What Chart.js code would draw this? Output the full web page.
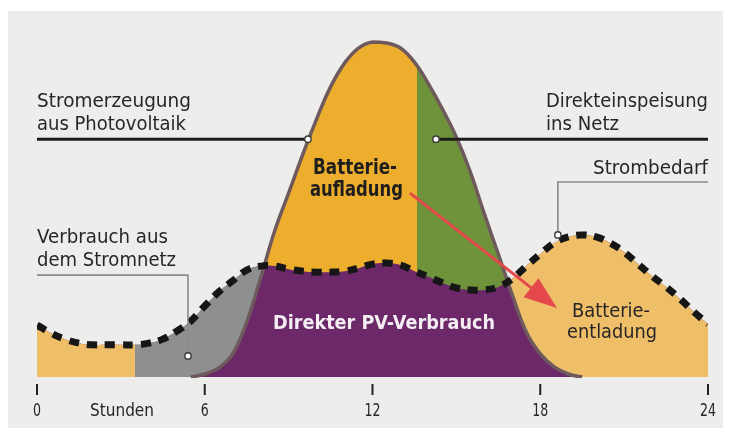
<!DOCTYPE html>
<html>
<head>
<meta charset="utf-8">
<script src="https://cdn.jsdelivr.net/npm/chart.js@4.4.1/dist/chart.umd.min.js"></script>
<style>
html,body{margin:0;padding:0;background:#fff;}
canvas{display:block;}
</style>
</head>
<body>
<canvas id="c" width="731" height="435"></canvas>
<script>
// ---- data (relative power, PV peak = 100) ----
const hours = [0,0.5,1,1.5,2,2.5,3,3.5,4,4.5,5,5.5,6,6.5,7,7.5,8,8.5,9,9.5,10,10.5,11,11.5,12,
               12.5,13,13.5,14,14.5,15,15.5,16,16.5,17,17.5,18,18.5,19,19.5,20,20.5,21,21.5,22,22.5,23,23.5,24];
const pvGeneration = [0,0,0,0,0,0,0,0,0,0,0,0,0.9,2.7,6.9,16.4,29.6,43.6,54.9,66.3,77.0,86.6,93.7,98.2,100,
                      99.7,98.2,94.0,87.5,80.0,71.6,61.2,48.7,36.7,24.5,13.4,6.9,3.0,0.9,0,0,0,0,0,0,0,0,0,0];
const powerDemand = [15.5,13.1,11.3,10.1,9.6,9.6,9.6,9.6,10.1,11.3,13.7,16.7,21.2,25.4,28.7,31.9,33.1,33.1,32.2,31.6,31.3,31.3,31.6,32.5,33.7,
                     34.0,33.4,31.6,29.9,28.1,26.6,26.0,26.0,26.9,29.3,33.1,36.7,40.0,41.8,42.4,41.8,40.0,37.3,33.7,30.1,26.9,23.3,19.4,15.8];
const xTickValues = [0,6,12,18,24];
const xTickLabels = ['0','6','12','18','24'];
const xAxisTitle = 'Stunden';
const gridUseStartHour = 3.5;   // grey zone starts
const feedInStartHour = 13.6;   // orange -> green boundary

// ---- colours ----
const C = {
  panel:'#ededeb', orange:'#edae2d', green:'#6e933a', purple:'#6c2868',
  light:'#efbe68', grey:'#8e8f8f', pvLine:'#6e5a5d', dash:'#161616',
  red:'#e5484b', text:'#262626', leader:'#8a8a8a'
};

const pvPoints = hours.map((h,i)=>({x:h,y:pvGeneration[i]}));
const demandPoints = hours.map((h,i)=>({x:h,y:powerDemand[i]}));

function hardGradient(chart, stops){
  const {ctx, chartArea, scales} = chart;
  if(!chartArea || !scales.x) return stops[0][1];
  const l = chartArea.left, r = chartArea.right;
  const g = ctx.createLinearGradient(l,0,r,0);
  stops.forEach(([h,c],i)=>{
    const t = Math.min(1, Math.max(0, (scales.x.getPixelForValue(h)-l)/(r-l)));
    if(i>0) g.addColorStop(t, stops[i-1][1]);
    g.addColorStop(t, c);
  });
  g.addColorStop(1, stops[stops.length-1][1]);
  return g;
}

function txt(c, s, x, y, w, align, font, color){
  c.save();
  c.font = font; c.fillStyle = color; c.textBaseline = 'alphabetic'; c.textAlign = 'left';
  const m = c.measureText(s).width;
  const sx = w / m;
  const x0 = align==='left' ? x : (align==='right' ? x - w : x - w/2);
  c.translate(x0, y); c.scale(sx, 1);
  c.fillText(s, 0, 0);
  c.restore();
}

const decor = {
  id:'decor',
  beforeDraw(chart){
    const c = chart.ctx;
    c.save();
    c.fillStyle = '#ffffff'; c.fillRect(0,0,chart.width,chart.height);
    c.fillStyle = C.panel; c.fillRect(8,11,715,417);
    c.restore();
  },
  afterDraw(chart){
    const c = chart.ctx;
    const X = v => chart.scales.x.getPixelForValue(v);
    const Y = v => chart.scales.y.getPixelForValue(v);
    const circle = (x,y)=>{ c.beginPath(); c.arc(x,y,3.2,0,Math.PI*2); c.fillStyle='#fff'; c.fill(); c.lineWidth=1.4; c.strokeStyle='#3a3a3a'; c.stroke(); };
    c.save();
    // black label lines for PV generation / feed-in
    c.strokeStyle = '#1c1c1c'; c.lineWidth = 3; c.lineCap='butt';
    c.beginPath(); c.moveTo(X(0), Y(71)); c.lineTo(X(9.69)-3, Y(71)); c.stroke();
    c.beginPath(); c.moveTo(X(14.27)+3, Y(71)); c.lineTo(X(24), Y(71)); c.stroke();
    circle(X(9.69), Y(71)); circle(X(14.27), Y(71));
    // grey leaders
    c.strokeStyle = C.leader; c.lineWidth = 1.6;
    c.beginPath(); c.moveTo(X(24), Y(58.2)); c.lineTo(X(18.63), Y(58.2)); c.lineTo(X(18.63), Y(42.4)-3); c.stroke();
    circle(X(18.63), Y(42.4));
    c.strokeStyle = C.leader; c.lineWidth = 1.6;
    c.beginPath(); c.moveTo(X(0), Y(30.4)); c.lineTo(X(5.4), Y(30.4)); c.lineTo(X(5.4), Y(6.3)-3); c.stroke();
    circle(X(5.4), Y(6.3));
    // red arrow
    const sx = X(13.34), sy = Y(54.9), tx = X(18.6), ty = Y(20.6);
    const dx = tx-sx, dy = ty-sy, L = Math.hypot(dx,dy), ux = dx/L, uy = dy/L;
    const hl = 33, hw = 12;
    const bx = tx-ux*hl, by = ty-uy*hl;
    c.strokeStyle = C.red; c.fillStyle = C.red; c.lineWidth = 3;
    c.beginPath(); c.moveTo(sx,sy); c.lineTo(bx+ux*4,by+uy*4); c.stroke();
    c.beginPath(); c.moveTo(tx,ty); c.lineTo(bx-uy*hw, by+ux*hw); c.lineTo(bx+uy*hw, by-ux*hw); c.closePath(); c.fill();
    // texts
    const F = '19px "DejaVu Sans", sans-serif';
    const FB = 'bold 21px "DejaVu Sans", sans-serif';
    const FW = 'bold 20px "DejaVu Sans", sans-serif';
    txt(c,'Stromerzeugung',37,107,154,'left',F,C.text);
    txt(c,'aus Photovoltaik',37,130,149,'left',F,C.text);
    txt(c,'Direkteinspeisung',708,107,162,'right',F,C.text);
    txt(c,'ins Netz',546,130,73,'left',F,C.text);
    txt(c,'Strombedarf',708,174,115,'right',F,C.text);
    txt(c,'Verbrauch aus',37,243,131,'left',F,C.text);
    txt(c,'dem Stromnetz',37,266,139,'left',F,C.text);
    txt(c,'Batterie-',355,174,84,'center',FB,'#1e1e1e');
    txt(c,'aufladung',356.5,196,93,'center',FB,'#1e1e1e');
    txt(c,'Direkter PV-Verbrauch',384,329,222,'center',FW,'#f4eef3');
    txt(c,'Batterie-',611,317,78,'center',F,C.text);
    txt(c,'entladung',612,338,90,'center',F,C.text);
    // x axis ticks + labels
    const base = chart.chartArea.bottom;
    c.strokeStyle = '#222'; c.lineWidth = 2;
    const TF = '17px "DejaVu Sans", sans-serif';
    c.font = TF;
    const dsx = 16 / c.measureText('12').width;
    xTickValues.forEach((v,i)=>{
      const x = X(v);
      c.beginPath(); c.moveTo(x, base+7); c.lineTo(x, base+18); c.stroke();
      c.font = TF;
      const w = c.measureText(xTickLabels[i]).width * dsx;
      txt(c, xTickLabels[i], x, base+39, w, 'center', TF, C.text);
    });
    txt(c, xAxisTitle, 90, base+39, 64, 'left', TF, C.text);
    c.restore();
  }
};

new Chart(document.getElementById('c'), {
  type:'line',
  data:{ datasets:[
    { // 0: PV generation area (battery charging / direct feed-in)
      data: pvPoints, order:5, fill:'origin', borderWidth:0, borderColor:'rgba(0,0,0,0)',
      backgroundColor: ctx => hardGradient(ctx.chart, [[0,C.orange],[feedInStartHour,C.green]])
    },
    { // 1: demand area -> direct PV consumption
      data: demandPoints, order:4, fill:'origin', borderWidth:0, borderColor:'rgba(0,0,0,0)',
      backgroundColor: C.purple
    },
    { // 2: demand above PV -> grid / battery discharge
      data: demandPoints, order:3, fill:{target:0, below:'rgba(0,0,0,0)'}, borderWidth:0, borderColor:'rgba(0,0,0,0)',
      backgroundColor: ctx => hardGradient(ctx.chart, [[0,C.light],[gridUseStartHour,C.grey],[12,C.light]])
    },
    { // 3: PV outline
      data: pvPoints, order:2, fill:false, borderWidth:3.5, borderColor:C.pvLine,
      clip:{left:0,right:0,top:6,bottom:1},
      segment:{ borderColor: s => (s.p0.parsed.y<=0 && s.p1.parsed.y<=0) ? 'rgba(0,0,0,0)' : C.pvLine }
    },
    { // 4: demand dashed line
      data: demandPoints, order:1, fill:false, borderWidth:7, borderColor:C.dash,
      borderDash:[10,8], borderCapStyle:'butt', clip:{left:0,right:0,top:6,bottom:6}
    }
  ]},
  options:{
    responsive:false, animation:false, devicePixelRatio:1, events:[],
    layout:{ padding:{left:37,right:23,top:42,bottom:58} },
    scales:{
      x:{ type:'linear', min:0, max:24, display:false },
      y:{ type:'linear', min:0, max:100, display:false }
    },
    elements:{ point:{radius:0}, line:{tension:0.4, cubicInterpolationMode:'default', borderJoinStyle:'round'} },
    plugins:{ legend:{display:false}, tooltip:{enabled:false}, filler:{propagate:false} }
  },
  plugins:[decor]
});
</script>
</body>
</html>
